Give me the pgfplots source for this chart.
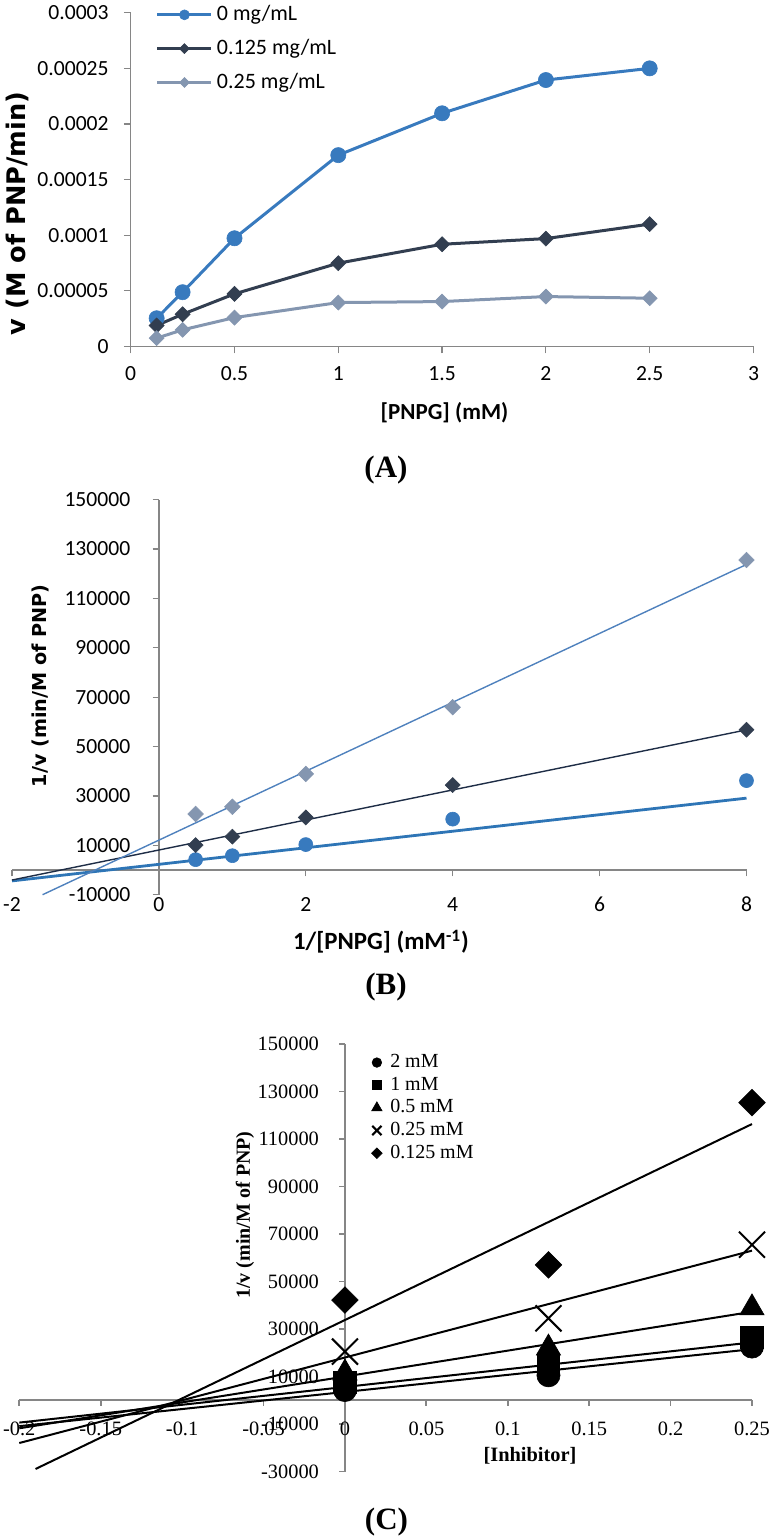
\documentclass[border=0pt]{standalone}
\usepackage{pgfplots}
\pgfplotsset{compat=1.18}
\usepackage{fontspec}
\newfontfamily\carlito{Carlito}
\newfontfamily\dejavu{DejaVu Sans}
\newfontfamily\lserif{Liberation Serif}
\definecolor{blueA}{RGB}{56,122,190}
\definecolor{darkA}{RGB}{50,62,80}
\definecolor{lightA}{RGB}{132,150,176}
\definecolor{tlblue}{RGB}{46,117,182}
\definecolor{tllight}{RGB}{79,129,189}
\definecolor{tldark}{RGB}{30,45,70}
\definecolor{axgrey}{RGB}{134,134,134}
\pgfplotsset{
  noarrows/.style={
    axis line style={-},
    every inner x axis line/.append style={-},
    every inner y axis line/.append style={-},
    every outer x axis line/.append style={-},
    every outer y axis line/.append style={-},
  },
}
\begin{document}
\begin{tikzpicture}
\path[use as bounding box] (0pt,0pt) rectangle (385.5pt,-769.5pt);
% ---------------- Panel A ----------------
\begin{axis}[
  at={(65.35pt,-173.25pt)}, anchor=south west,
  scale only axis, width=311.4pt, height=166.9pt,
  xmin=0, xmax=3, ymin=0, ymax=0.0003,
  axis x line=bottom, axis y line=left, noarrows,
  axis line style={axgrey, line width=0.6pt},
  tick style={axgrey, line width=0.6pt},
  tick align=outside, major tick length=3.4pt,
  scaled ticks=false,
  xtick={0,0.5,1,1.5,2,2.5,3},
  xticklabels={0,0.5,1,1.5,2,2.5,3},
  ytick={0,0.00005,0.0001,0.00015,0.0002,0.00025,0.0003},
  yticklabels={0,0.00005,0.0001,0.00015,0.0002,0.00025,0.0003},
  tick label style={font=\carlito\fontsize{10.8}{13}\selectfont, inner sep=0pt},
  xticklabel style={anchor=center, yshift=-10pt},
  yticklabel style={anchor=east, xshift=-7.45pt},
  clip=false,
  legend style={draw=none, fill=none, at={(0.0406,1.033)}, anchor=north west,
    inner sep=0pt, outer sep=0pt, row sep=3.75pt, column sep=0pt,
    font=\carlito\fontsize{11}{13}\selectfont},
  legend cell align=left,
  legend image code/.code={\draw[#1, mark repeat=2, mark phase=2] plot coordinates {(0pt,0pt) (13.5pt,0pt) (27pt,0pt)};},
]
\addplot[blueA, line width=1.5pt, mark=*, mark size=3.8pt,
  mark options={fill=blueA, draw=blueA, line width=0.3pt},
  legend image post style={mark size=2.5pt}]
  coordinates {(0.125,0.0000254) (0.25,0.0000488) (0.5,0.0000973) (1,0.000172) (1.5,0.0002096) (2,0.0002395) (2.5,0.00025)};
\addlegendentry{0 mg/mL}
\addplot[darkA, line width=1.5pt, mark=square*, mark size=2.65pt,
  mark options={rotate=45, fill=darkA, draw=darkA, line width=0.3pt},
  legend image post style={mark size=1.75pt}]
  coordinates {(0.125,0.0000189) (0.25,0.000029) (0.5,0.0000473) (1,0.0000749) (1.5,0.0000919) (2,0.000097) (2.5,0.00011)};
\addlegendentry{0.125 mg/mL}
\addplot[lightA, line width=1.5pt, mark=square*, mark size=2.65pt,
  mark options={rotate=45, fill=lightA, draw=lightA, line width=0.3pt},
  legend image post style={mark size=1.75pt}]
  coordinates {(0.125,0.0000075) (0.25,0.000015) (0.5,0.000026) (1,0.0000395) (1.5,0.0000404) (2,0.0000449) (2.5,0.0000434)};
\addlegendentry{0.25 mg/mL}
\end{axis}
\node[rotate=90, font=\dejavu\bfseries\fontsize{12.8}{15}\selectfont] at (8.6pt,-106.75pt) {v (M of PNP/min)};
\node[font=\carlito\bfseries\fontsize{11.5}{14}\selectfont] at (222.25pt,-206.5pt) {[PNPG] (mM)};
\node[font=\lserif\bfseries\fontsize{15.5}{18}\selectfont] at (193pt,-235pt) {(A)};
% ---------------- Panel B ----------------
\begin{axis}[
  at={(6pt,-447.35pt)}, anchor=south west,
  scale only axis, width=367.25pt, height=197.6pt,
  xmin=-2, xmax=8, ymin=-10000, ymax=150000,
  axis x line=middle, axis y line=middle, noarrows,
  axis line style={axgrey, line width=0.6pt},
  tick style={axgrey, line width=0.6pt},
  tick align=outside, major tick length=3.2pt,
  hide obscured x ticks=false, hide obscured y ticks=false,
  scaled ticks=false,
  xtick={-2,0,2,4,6,8},
  xticklabels={-2,0,2,4,6,8},
  ytick={-10000,10000,30000,50000,70000,90000,110000,130000,150000},
  yticklabels={-10000,10000,30000,50000,70000,90000,110000,130000,150000},
  tick label style={font=\carlito\fontsize{10.8}{13}\selectfont, inner sep=0pt},
  xticklabel style={anchor=center, yshift=-14pt},
  yticklabel style={anchor=east, xshift=-10.95pt},
  clip=false,
]
\addplot[tlblue, line width=1.4pt, no marks] coordinates {(-2,-4400) (8,29100)};
\addplot[tldark, line width=0.7pt, no marks] coordinates {(-2,-4060) (8,56740)};
\addplot[tllight, line width=0.7pt, no marks] coordinates {(-1.584,-10000) (8,123700)};
\addplot[only marks, mark=*, mark size=3.5pt, mark options={fill=blueA, draw=blueA, line width=0.3pt}]
  coordinates {(0.5,4200) (1,5800) (2,10300) (4,20600) (8,36200)};
\addplot[only marks, mark=square*, mark size=2.65pt, mark options={rotate=45, fill=darkA, draw=darkA, line width=0.3pt}]
  coordinates {(0.5,10100) (1,13500) (2,21300) (4,34400) (8,56800)};
\addplot[only marks, mark=square*, mark size=2.75pt, mark options={rotate=45, fill=lightA, draw=lightA, line width=0.3pt}]
  coordinates {(0.5,22700) (1,25600) (2,38900) (4,65900) (8,125500)};
\end{axis}
\node[rotate=90, font=\dejavu\bfseries\fontsize{9.6}{12}\selectfont] at (20pt,-343pt) {1/v (min/M of PNP)};
\node[font=\carlito\bfseries\fontsize{12.4}{15}\selectfont] at (190.5pt,-470.85pt) {1/[PNPG] (mM\textsuperscript{-1})};
\node[font=\lserif\bfseries\fontsize{15.5}{18}\selectfont] at (193pt,-493.35pt) {(B)};
% ---------------- Panel C ----------------
\begin{axis}[
  at={(9.65pt,-735.75pt)}, anchor=south west,
  scale only axis, width=366.35pt, height=213.75pt,
  xmin=-0.2, xmax=0.25, ymin=-30000, ymax=150000,
  axis x line=middle, axis y line=middle, noarrows,
  axis line style={axgrey, line width=0.9pt},
  tick style={axgrey, line width=0.9pt},
  tick align=outside, major tick length=2.8pt,
  hide obscured x ticks=false, hide obscured y ticks=false,
  scaled ticks=false,
  xtick={-0.2,-0.15,-0.1,-0.05,0,0.05,0.1,0.15,0.2,0.25},
  xticklabels={-0.2,-0.15,-0.1,-0.05,0,0.05,0.1,0.15,0.2,0.25},
  ytick={-30000,-10000,10000,30000,50000,70000,90000,110000,130000,150000},
  yticklabels={-30000,-10000,10000,30000,50000,70000,90000,110000,130000,150000},
  tick label style={font=\lserif\fontsize{10.2}{12}\selectfont, inner sep=0pt},
  xticklabel style={anchor=center, yshift=-11.5pt},
  yticklabel style={anchor=east, xshift=-10pt},
  clip=false,
  legend style={draw=none, fill=none, at={(0.4807,0.985)}, anchor=north west,
    inner sep=0pt, outer sep=0pt, row sep=-0.8pt, column sep=2pt,
    font=\lserif\fontsize{10}{12}\selectfont},
  legend cell align=left,
  legend image code/.code={\draw[#1] plot coordinates {(0pt,0pt)};},
]
\addplot[black, line width=1pt, no marks, forget plot] coordinates {(-0.2,-10900) (0.25,21500)};
\addplot[black, line width=1pt, no marks, forget plot] coordinates {(-0.2,-9400) (0.25,24350)};
\addplot[black, line width=1pt, no marks, forget plot] coordinates {(-0.2,-11800) (0.25,37250)};
\addplot[black, line width=1pt, no marks, forget plot] coordinates {(-0.2,-18000) (0.25,63000)};
\addplot[black, line width=1pt, no marks, forget plot] coordinates {(-0.19,-28920) (0.25,116300)};
\addplot[only marks, black, mark=*, mark size=5.8pt, mark options={fill=black, line width=0.3pt},
  legend image post style={mark size=2.4pt}]
  coordinates {(0,4300) (0.125,10500) (0.25,22600)};
\addlegendentry{2 mM}
\addplot[only marks, black, mark=square*, mark size=5.6pt, mark options={fill=black, line width=0.3pt},
  legend image post style={mark size=2.3pt}]
  coordinates {(0,7500) (0.125,14900) (0.25,26500)};
\addlegendentry{1 mM}
\addplot[only marks, black, mark=triangle*, mark size=7pt, mark options={fill=black, line width=0.3pt},
  legend image post style={mark size=3pt}]
  coordinates {(0,11500) (0.125,22000) (0.25,38900)};
\addlegendentry{0.5 mM}
\addplot[only marks, black, mark=x, mark size=9.2pt, mark options={line width=1pt},
  legend image post style={mark size=3.3pt, line width=0.8pt}]
  coordinates {(0,20500) (0.125,34500) (0.25,65500)};
\addlegendentry{0.25 mM}
\addplot[only marks, black, mark=square*, mark size=4.7pt, mark options={rotate=45, fill=black, line width=0.3pt},
  legend image post style={mark size=1.9pt}]
  coordinates {(0,42200) (0.125,57000) (0.25,125300)};
\addlegendentry{0.125 mM}
\end{axis}
\node[rotate=90, font=\lserif\bfseries\fontsize{10}{12}\selectfont] at (122.5pt,-607.5pt) {1/v (min/M of PNP)};
\node[font=\lserif\bfseries\fontsize{10.2}{12}\selectfont] at (265pt,-728pt) {[Inhibitor]};
\node[font=\lserif\bfseries\fontsize{15.5}{18}\selectfont] at (193.25pt,-760.85pt) {(C)};
\end{tikzpicture}
\end{document}
